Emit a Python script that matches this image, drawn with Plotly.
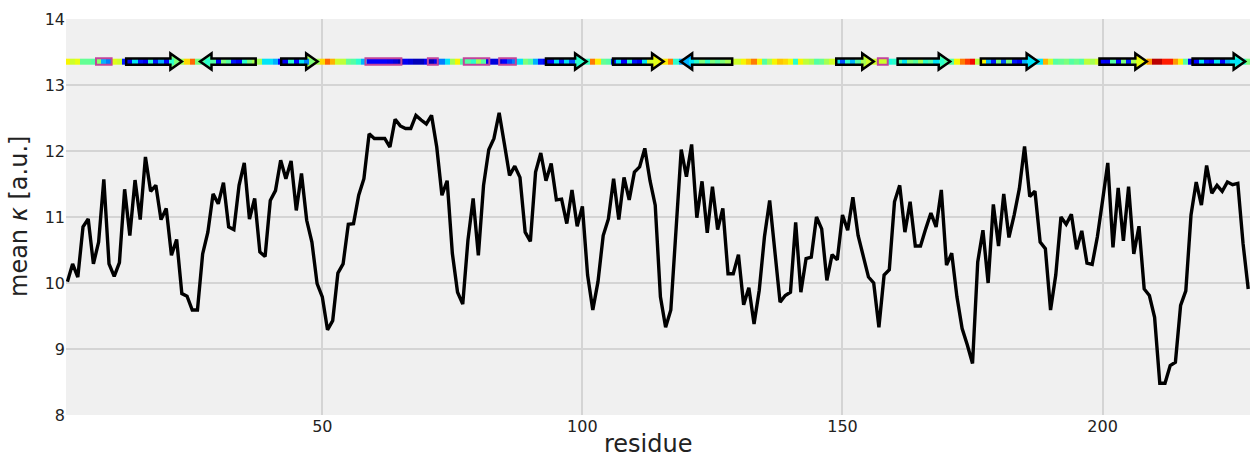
import numpy as np
import plotly.graph_objects as go

# ---------------- data ----------------
residues = list(range(1, 229))

mean_kappa = [
    10.02, 10.29, 10.09, 10.85, 10.97, 10.29, 10.62, 11.57, 10.29, 10.10,
    10.31, 11.42, 10.72, 11.56, 10.96, 11.91, 11.39, 11.48, 10.96, 11.13,
    10.42, 10.66, 9.84, 9.80, 9.59, 9.59, 10.44, 10.77, 11.35, 11.20,
    11.52, 10.85, 10.81, 11.48, 11.82, 10.97, 11.28, 10.47, 10.40, 11.25,
    11.40, 11.86, 11.58, 11.85, 11.10, 11.66, 10.95, 10.62, 9.99, 9.79,
    9.29, 9.43, 10.15, 10.29, 10.89, 10.90, 11.33, 11.58, 12.26, 12.19,
    12.19, 12.19, 12.06, 12.48, 12.38, 12.34, 12.34, 12.54, 12.47, 12.41,
    12.54, 12.06, 11.33, 11.55, 10.45, 9.86, 9.68, 10.65, 11.28, 10.42,
    11.48, 12.02, 12.19, 12.58, 12.11, 11.63, 11.77, 11.60, 10.77, 10.63,
    11.68, 11.97, 11.55, 11.81, 11.26, 11.27, 10.90, 11.41, 10.86, 11.16,
    10.12, 9.59, 10.02, 10.72, 10.97, 11.58, 10.96, 11.60, 11.26, 11.68,
    11.76, 12.04, 11.55, 11.18, 9.79, 9.33, 9.59, 10.80, 12.02, 11.61,
    12.10, 10.99, 11.54, 10.76, 11.46, 10.81, 11.13, 10.14, 10.14, 10.43,
    9.67, 9.93, 9.38, 9.89, 10.70, 11.25, 10.49, 9.71, 9.81, 9.86,
    10.92, 9.86, 10.37, 10.39, 11.00, 10.82, 10.04, 10.43, 10.35, 11.03,
    10.80, 11.30, 10.72, 10.42, 10.09, 10.00, 9.33, 10.12, 10.20, 11.23,
    11.48, 10.77, 11.23, 10.56, 10.56, 10.82, 11.06, 10.85, 11.41, 10.27,
    10.45, 9.79, 9.31, 9.06, 8.78, 10.32, 10.80, 10.00, 11.19, 10.56,
    11.35, 10.69, 11.03, 11.43, 12.07, 11.31, 11.39, 10.62, 10.52, 9.59,
    10.12, 11.00, 10.89, 11.04, 10.51, 10.79, 10.30, 10.28, 10.70, 11.25,
    11.82, 10.54, 11.44, 10.64, 11.46, 10.44, 10.86, 9.91, 9.81, 9.48,
    8.48, 8.48, 8.75, 8.80, 9.66, 9.88, 11.03, 11.53, 11.18, 11.78,
    11.36, 11.48, 11.39, 11.53, 11.49, 11.51, 10.60, 9.91,
]

# per-residue value shown in the colour strip (jet colormap, 0..1)
strip_values = (
    [0.65, 0.6, 0.63, 0.47, 0.47, 0.45, 0.52, 0.3, 0.25, 0.62, 0.6]          # 1-11
    + [0.15, 0.1, 0.35, 0.15, 0.1, 0.4, 0.15, 0.3, 0.12, 0.4, 0.5, 0.55]    # 12-23
    + [0.68, 0.8]                                                          # 24-25
    + [0.5, 0.45, 0.4, 0.45, 0.1, 0.5, 0.45, 0.15, 0.1, 0.4, 0.5, 0.55]     # 26-37
    + [0.55, 0.35, 0.35, 0.3]                                              # 38-41
    + [0.12, 0.1, 0.4, 0.12, 0.35, 0.25, 0.5, 0.55]                        # 42-49
    + [0.68, 0.8, 0.72, 0.6, 0.58, 0.47, 0.45, 0.4, 0.3]                   # 50-58
    + [0.12, 0.12, 0.12, 0.12, 0.1, 0.08, 0.05]                            # 59-65
    + [0.1, 0.08, 0.05, 0.05, 0.1]                                         # 66-70
    + [0.05, 0.1, 0.25, 0.35, 0.55, 0.65]                                  # 71-76
    + [0.45, 0.45, 0.4, 0.55, 0.45, 0.1, 0.08]                             # 77-83
    + [0.08, 0.12, 0.2, 0.25, 0.35, 0.5, 0.45, 0.3, 0.15]                  # 84-92
    + [0.1, 0.12, 0.35, 0.15, 0.35, 0.2, 0.4, 0.4, 0.42]                   # 93-101
    + [0.78, 0.66, 0.47, 0.45]                                             # 102-105
    + [0.15, 0.35, 0.12, 0.4, 0.15, 0.1, 0.35, 0.6, 0.62, 0.65, 0.66]      # 106-116
    + [0.78, 0.4]                                                          # 117-118
    + [0.28, 0.3, 0.35, 0.4, 0.5, 0.4, 0.5, 0.45, 0.5, 0.55, 0.6]          # 119-129
    + [0.6, 0.65, 0.7, 0.78, 0.65, 0.45, 0.55, 0.65, 0.7, 0.68,
       0.64, 0.4, 0.65, 0.58, 0.55, 0.45, 0.47, 0.55, 0.6]                 # 130-148
    + [0.35, 0.2, 0.4, 0.3, 0.45, 0.55, 0.6, 0.6]                          # 149-156
    + [0.6, 0.6, 0.38]                                                     # 157-159
    + [0.4, 0.45, 0.35, 0.5, 0.45, 0.55, 0.4, 0.45, 0.35, 0.4, 0.45, 0.45] # 160-171
    + [0.65, 0.78, 0.85, 0.9, 0.58]                                        # 172-176
    + [0.65, 0.3, 0.15, 0.5, 0.2, 0.5, 0.15, 0.1, 0.3, 0.35, 0.35, 0.35]   # 177-188
    + [0.72, 0.6, 0.45, 0.47, 0.5, 0.45, 0.48, 0.45, 0.58, 0.55, 0.6]      # 189-199
    + [0.12, 0.1, 0.45, 0.12, 0.5, 0.15, 0.55, 0.62, 0.65]                 # 200-208
    + [0.75, 0.95, 0.95, 0.88, 0.88, 0.75, 0.65, 0.45]                     # 209-216
    + [0.1, 0.12, 0.35, 0.15, 0.1, 0.35, 0.12, 0.3, 0.35, 0.35, 0.4, 0.5]  # 217-228
)

# beta strands (arrow tail -> arrow tip, in residue units)
strand_tail = [12.3, 37.2, 42.1, 93.0, 105.9, 128.8, 148.8, 160.6, 176.6, 199.4, 217.3]
strand_tip = [23.0, 26.5, 49.1, 100.8, 115.6, 118.9, 156.0, 170.7, 187.6, 208.5, 227.4]

# helices (extent in residue units)
helix_start = [6.5, 58.3, 70.3, 77.2, 84.0, 156.8]
helix_end = [9.5, 65.2, 72.2, 82.1, 87.2, 158.7]

x_ticks = [50, 100, 150, 200]
y_ticks = [8, 9, 10, 11, 12, 13, 14]

# ---------------- matplotlib "jet" colormap ----------------
_jet_r = ([0, 0.35, 0.66, 0.89, 1], [0, 0, 1, 1, 0.5])
_jet_g = ([0, 0.125, 0.375, 0.64, 0.91, 1], [0, 0, 1, 1, 0, 0])
_jet_b = ([0, 0.11, 0.34, 0.65, 1], [0.5, 1, 1, 0, 0])


def jet(v):
    r = np.interp(v, *_jet_r)
    g = np.interp(v, *_jet_g)
    b = np.interp(v, *_jet_b)
    return "rgb(%d,%d,%d)" % (round(r * 255), round(g * 255), round(b * 255))


_breaks = sorted(set(_jet_r[0] + _jet_g[0] + _jet_b[0]))
jet_scale = [[b, jet(b)] for b in _breaks]

# ---------------- figure ----------------
STRIP_Y = 13.355
STRIP_H = 0.087

fig = go.Figure()

fig.add_trace(go.Heatmap(
    z=[strip_values], x=residues, y0=STRIP_Y, dy=STRIP_H,
    colorscale=jet_scale, zmin=0, zmax=1, showscale=False,
    hoverinfo="skip", zsmooth=False,
))

fig.add_trace(go.Scatter(
    x=residues, y=mean_kappa, mode="lines",
    line=dict(color="black", width=3.4), showlegend=False,
))

shapes = []
SHAFT = 0.048
HEAD = 0.122
HEAD_LEN = 2.2
for t0, t1 in zip(strand_tail, strand_tip):
    s = 1 if t1 > t0 else -1
    hb = t1 - s * HEAD_LEN
    pts = [(t0, STRIP_Y - SHAFT), (hb, STRIP_Y - SHAFT), (hb, STRIP_Y - HEAD),
           (t1, STRIP_Y), (hb, STRIP_Y + HEAD), (hb, STRIP_Y + SHAFT),
           (t0, STRIP_Y + SHAFT)]
    path = "M " + " L ".join("%.4f,%.4f" % p for p in pts) + " Z"
    head_res = int(round(t1 - 0.5 * s))
    fill = jet(strip_values[head_res - 1])
    shapes.append(dict(type="path", path=path, xref="x", yref="y",
                       fillcolor=fill, line=dict(width=0), layer="between"))
    shapes.append(dict(type="path", path=path, xref="x", yref="y",
                       fillcolor="rgba(0,0,0,0)",
                       line=dict(color="black", width=2.5), layer="above"))

for h0, h1 in zip(helix_start, helix_end):
    shapes.append(dict(type="rect", xref="x", yref="y",
                       x0=h0, x1=h1, y0=STRIP_Y - 0.05, y1=STRIP_Y + 0.05,
                       line=dict(color="#c2449a", width=2), fillcolor="rgba(0,0,0,0)",
                       layer="above"))

fig.update_layout(
    width=1250, height=458,
    margin=dict(l=66, r=0, t=19, b=43),
    paper_bgcolor="white", plot_bgcolor="#f0f0f0",
    showlegend=False,
    font=dict(family="DejaVu Sans", size=16, color="#222222"),
    shapes=shapes,
    xaxis=dict(range=[0.73, 228.34], tickvals=x_ticks, showgrid=True,
               gridcolor="#d4d4d4", gridwidth=1.5, zeroline=False,
               showline=False, ticks="", ticklen=0,
               tickfont=dict(size=16, family="DejaVu Sans", color="#222222")),
    yaxis=dict(range=[8, 14], tickvals=y_ticks, showgrid=True,
               gridcolor="#d4d4d4", gridwidth=1.5, zeroline=False,
               showline=False, ticks="",
               tickfont=dict(size=16, family="DejaVu Sans", color="#222222")),
    annotations=[
        dict(text="mean <i>κ</i> [a.u.]", xref="paper", yref="paper",
             x=0, y=0.5, xanchor="center", yanchor="middle", xshift=-47,
             textangle=-90, showarrow=False,
             font=dict(size=24, family="DejaVu Sans", color="#222222")),
        dict(text="residue", xref="paper", yref="paper",
             x=0.492, y=0, xanchor="center", yanchor="top", yshift=-13,
             showarrow=False,
             font=dict(size=24, family="DejaVu Sans", color="#222222")),
    ],
)

fig.write_html("out.html")
